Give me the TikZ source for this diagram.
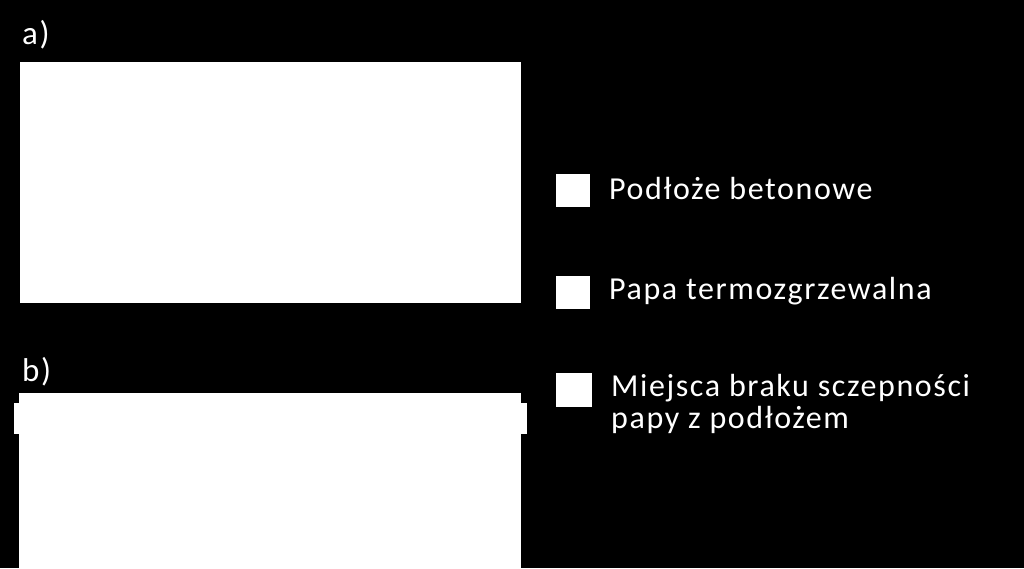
\documentclass[tikz,border=0pt]{standalone}
\usepackage{fontspec}
\setmainfont{Carlito}[LetterSpace=5]
\begin{document}
\begin{tikzpicture}[x=1pt,y=-1pt,
  lbl/.style={anchor=base west,inner sep=0pt,text=white,font=\fontsize{33}{33}\selectfont},
  leg/.style={anchor=base west,inner sep=0pt,text=white,font=\fontsize{32}{33}\selectfont,align=left},
  sq/.style={fill=white,draw=none}]
\fill[black] (0,0) rectangle (1024,568);
\useasboundingbox (0,0) rectangle (1024,568);
% a)
\node[lbl] (la) at (22,44) {a)};
\fill[white] (20,62) rectangle (521,303);
% b)
\node[lbl] (lb) at (22,381) {b)};
\fill[white] (19,393) rectangle (521,568);
\fill[white] (14,403) rectangle (527,434);
% legend
\fill[white] (556,174) rectangle (590,207);
\fill[white] (556,276) rectangle (590,309);
\fill[white] (556,373) rectangle (592,407);
\node[leg] (t1) at (609,199) {Podłoże betonowe};
\node[leg] (t2) at (609,299) {Papa termozgrzewalna};
\node[leg] (t3) at (611,396) {Miejsca braku sczepności};
\node[leg] (t4) at (611,428) {papy z podłożem};
\end{tikzpicture}
\end{document}
